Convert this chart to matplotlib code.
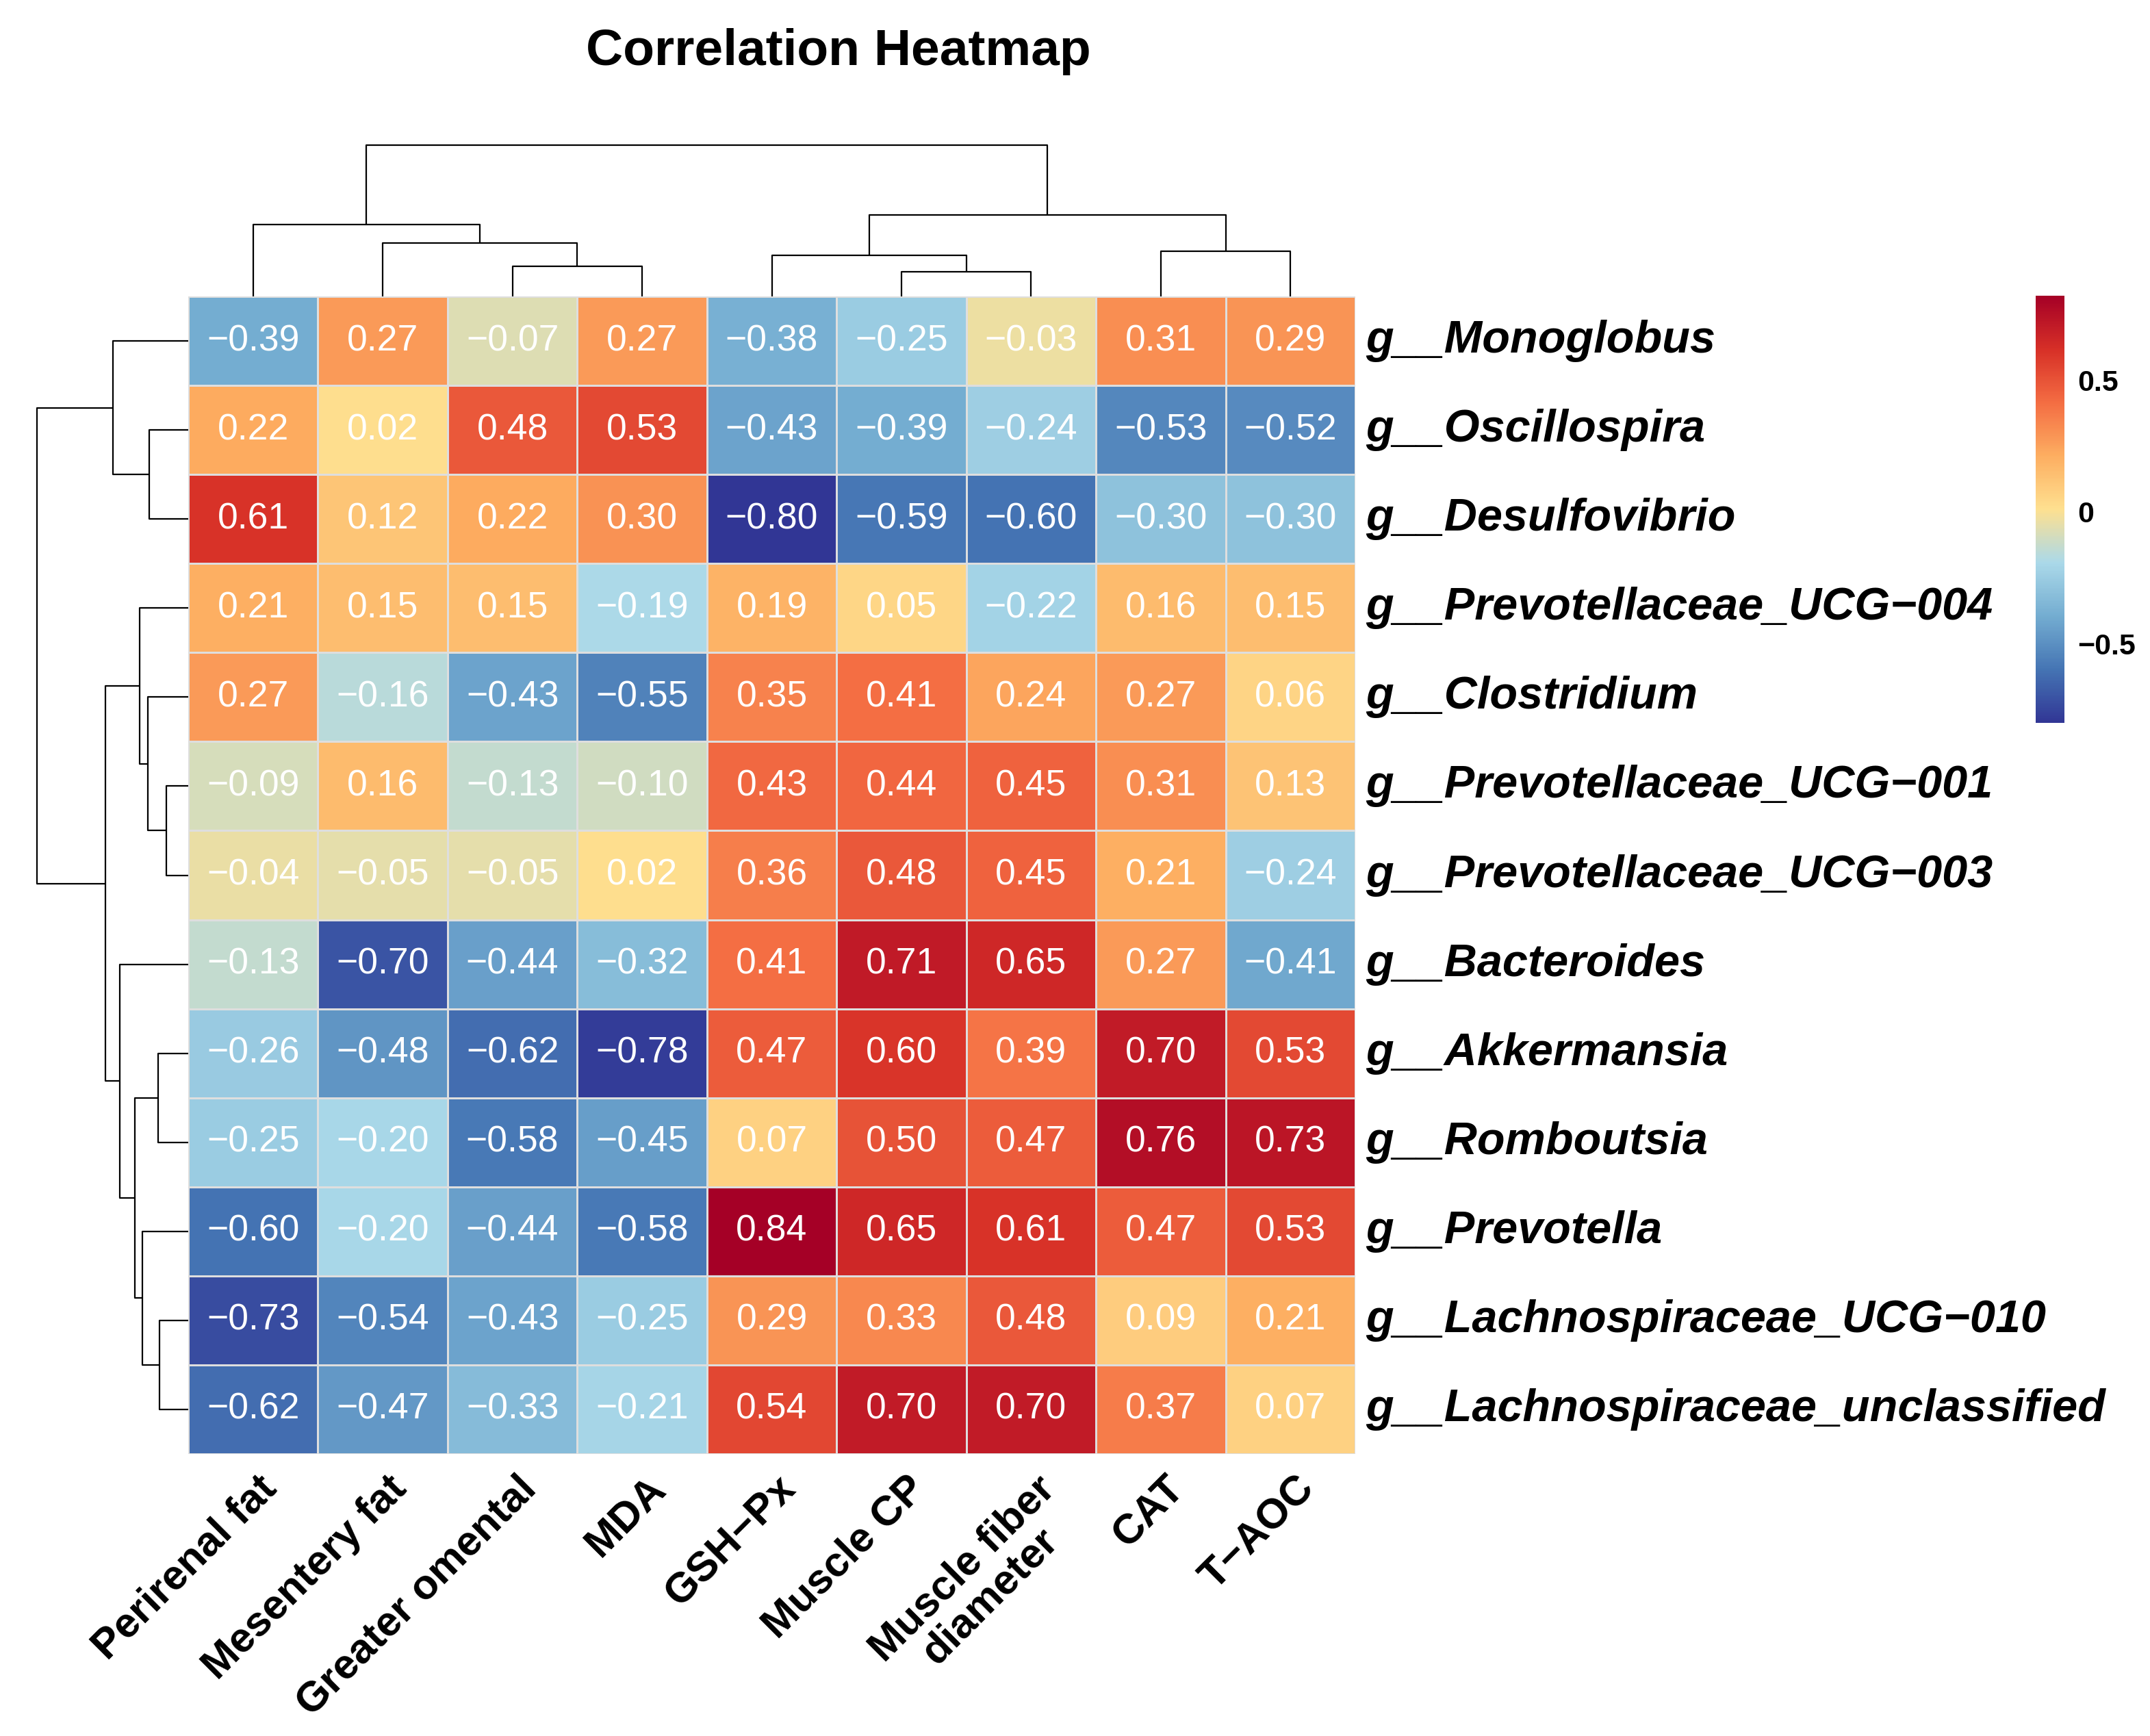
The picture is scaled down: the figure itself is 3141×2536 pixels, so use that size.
import numpy as np
import matplotlib
matplotlib.use("Agg")
import matplotlib.pyplot as plt
from matplotlib.colors import LinearSegmentedColormap
from matplotlib.transforms import ScaledTranslation

plt.rcParams['font.family'] = ['Liberation Sans', 'DejaVu Sans']

# ---- data (display order) ----
col_labels = ["Perirenal fat", "Mesentery fat", "Greater omental", "MDA", "GSH\u2212Px",
              "Muscle CP", "Muscle fiber\ndiameter", "CAT", "T\u2212AOC"]
row_labels = ["g__Monoglobus", "g__Oscillospira", "g__Desulfovibrio",
              "g__Prevotellaceae_UCG\u2212004", "g__Clostridium",
              "g__Prevotellaceae_UCG\u2212001", "g__Prevotellaceae_UCG\u2212003",
              "g__Bacteroides", "g__Akkermansia", "g__Romboutsia", "g__Prevotella",
              "g__Lachnospiraceae_UCG\u2212010", "g__Lachnospiraceae_unclassified"]

corr = np.array([
    [-0.39, 0.27, -0.07, 0.27, -0.38, -0.25, -0.03, 0.31, 0.29],
    [0.22, 0.02, 0.48, 0.53, -0.43, -0.39, -0.24, -0.53, -0.52],
    [0.61, 0.12, 0.22, 0.30, -0.80, -0.59, -0.60, -0.30, -0.30],
    [0.21, 0.15, 0.15, -0.19, 0.19, 0.05, -0.22, 0.16, 0.15],
    [0.27, -0.16, -0.43, -0.55, 0.35, 0.41, 0.24, 0.27, 0.06],
    [-0.09, 0.16, -0.13, -0.10, 0.43, 0.44, 0.45, 0.31, 0.13],
    [-0.04, -0.05, -0.05, 0.02, 0.36, 0.48, 0.45, 0.21, -0.24],
    [-0.13, -0.70, -0.44, -0.32, 0.41, 0.71, 0.65, 0.27, -0.41],
    [-0.26, -0.48, -0.62, -0.78, 0.47, 0.60, 0.39, 0.70, 0.53],
    [-0.25, -0.20, -0.58, -0.45, 0.07, 0.50, 0.47, 0.76, 0.73],
    [-0.60, -0.20, -0.44, -0.58, 0.84, 0.65, 0.61, 0.47, 0.53],
    [-0.73, -0.54, -0.43, -0.25, 0.29, 0.33, 0.48, 0.09, 0.21],
    [-0.62, -0.47, -0.33, -0.21, 0.54, 0.70, 0.70, 0.37, 0.07],
])

# merges: (child a, child b, height relative to root); new node ids start at n
col_merges = [(5, 6, 0.161), (2, 3, 0.198), (4, 9, 0.273), (7, 8, 0.300),
              (1, 10, 0.353), (0, 13, 0.474), (11, 12, 0.539), (14, 15, 1.0)]
row_merges = [(5, 6, 0.145), (1, 2, 0.259), (11, 12, 0.190), (8, 9, 0.198),
              (4, 13, 0.269), (10, 15, 0.301), (3, 17, 0.320), (16, 18, 0.353),
              (7, 20, 0.454), (0, 14, 0.498), (19, 21, 0.548), (22, 23, 1.0)]

palette = ["#313695", "#4575B4", "#74ADD1", "#ABD9E9", "#FEE090",
           "#FDAE61", "#F46D43", "#D73027", "#A50026"]
vmin, vmax = -0.80, 0.82


def dendro_segments(merges, n):
    pos = {i: i + 0.5 for i in range(n)}
    hgt = {i: 0.0 for i in range(n)}
    segs = []
    for k, (a, b, h) in enumerate(merges):
        xa, xb = pos[a], pos[b]
        segs.append(([xa, xa, xb, xb], [hgt[a], h, h, hgt[b]]))
        pos[n + k] = (xa + xb) / 2
        hgt[n + k] = h
    return segs


W, H = 3141, 2536
fig = plt.figure(figsize=(W / 100, H / 100), dpi=100)


def px_axes(x0, y0, x1, y1):
    return fig.add_axes([x0 / W, 1 - y1 / H, (x1 - x0) / W, (y1 - y0) / H])


nrow, ncol = corr.shape
hx0, hx1, hy0, hy1 = 275, 1980, 433, 2124

cmap = LinearSegmentedColormap.from_list("rdylbu9", palette, N=256)
ax = px_axes(hx0, hy0, hx1, hy1)
mesh = ax.pcolormesh(np.arange(ncol + 1), np.arange(nrow + 1), corr, cmap=cmap,
                     vmin=vmin, vmax=vmax, edgecolors="#DEDEDE", linewidth=2.0)
ax.set_xlim(0, ncol)
ax.set_ylim(nrow, 0)
ax.axis("off")

for i in range(nrow):
    for j in range(ncol):
        txt = "%.2f" % corr[i, j]
        ax.text(j + 0.5, i + 0.5, txt.replace("-", "\u2212"), ha="center", va="center",
                color="white", fontsize=38.5)

for i, lab in enumerate(row_labels):
    ax.text(ncol, i + 0.5, lab, ha="left", va="center", fontsize=48,
            fontweight="bold", fontstyle="italic",
            transform=ax.transData + ScaledTranslation(0.15, 0, fig.dpi_scale_trans))

off = ScaledTranslation(0.06, -0.22, fig.dpi_scale_trans)
for j, lab in enumerate(col_labels):
    ax.text(j + 0.5, nrow, lab, ha="right", va="top", rotation=45,
            rotation_mode="anchor", multialignment="center", fontsize=44,
            fontweight="bold", linespacing=1.0, transform=ax.transData + off)

# top dendrogram
axt = px_axes(hx0, 212, hx1, hy0)
for xs, ys in dendro_segments(col_merges, ncol):
    axt.plot(xs, ys, color="black", lw=1.6, clip_on=False, solid_capstyle="butt")
axt.set_xlim(0, ncol)
axt.set_ylim(0, 1)
axt.axis("off")

# left dendrogram
axl = px_axes(54, hy0, hx0, hy1)
for xs, ys in dendro_segments(row_merges, nrow):
    axl.plot(ys, xs, color="black", lw=1.6, clip_on=False, solid_capstyle="butt")
axl.set_xlim(1, 0)
axl.set_ylim(nrow, 0)
axl.axis("off")

# colour bar
cax = px_axes(2974, 432, 3016, 1056)
cb = fig.colorbar(mesh, cax=cax)
cb.outline.set_visible(False)
cb.set_ticks([-0.5, 0, 0.5])
cb.set_ticklabels(["\u22120.5", "0", "0.5"])
cax.tick_params(length=0, pad=14, labelsize=31)
for t in cax.get_yticklabels():
    t.set_fontweight("bold")

fig.text(1225 / W, 1 - 75 / H, "Correlation Heatmap", ha="center", va="center",
         fontsize=54, fontweight="bold")

fig.savefig("out.png", dpi=100, facecolor="white")
